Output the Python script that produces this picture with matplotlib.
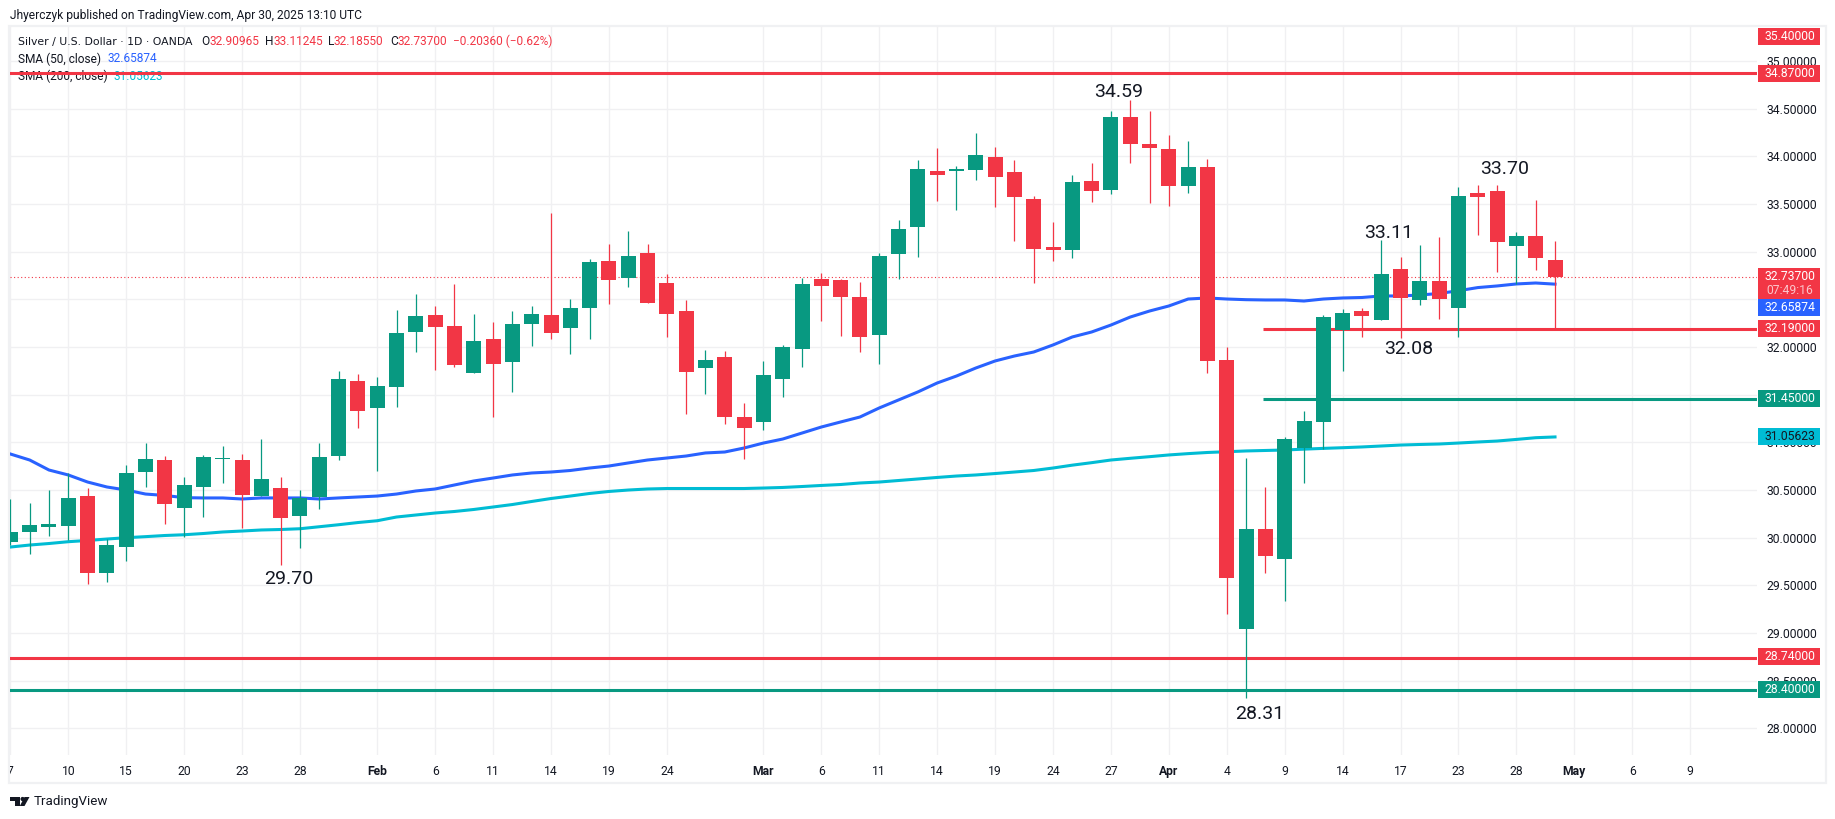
"""Silver / USD daily candles with SMA lines and marked levels, TradingView look."""

import matplotlib

matplotlib.use("Agg")
import matplotlib.pyplot as plt
import numpy as np
from matplotlib.patches import Circle, Polygon, Rectangle
from matplotlib.transforms import Affine2D, Bbox

W, H = 1835, 819
RED = "#F23645"
GREEN = "#089981"
BLUE = "#2962FF"
CYAN = "#00BCD4"
TEXT = "#131722"
GRID = "#F0F0F2"
FRAME = "#F0F1F3"

plt.rcParams["font.family"] = ["Roboto", "DejaVu Sans"]

# daily candles, first bar is 7 Jan (partly cut off by the left edge)
open_ = [
    29.954, 30.059, 30.111, 30.122, 30.436, 29.629, 29.901, 30.688, 30.814, 30.311,
    30.531, 30.825, 30.814, 30.436, 30.520, 30.227, 30.426, 30.856, 31.643, 31.360,
    31.580, 32.157, 32.335, 32.220, 31.727, 32.083, 31.842, 32.241, 32.335, 32.199,
    32.409, 32.902, 32.723, 32.986, 32.671, 32.377, 31.779, 31.895, 31.265, 31.213,
    31.664, 31.979, 32.713, 32.702, 32.524, 32.126, 32.975, 33.258, 33.846, 33.846,
    33.857, 33.993, 33.836, 33.552, 33.049, 33.017, 33.741, 33.647, 34.413, 34.129,
    34.077, 33.689, 33.888, 31.863, 29.041, 30.085, 29.776, 30.940, 31.218, 32.178,
    32.377, 32.283, 32.818, 32.493, 32.692, 32.409, 33.615, 33.636, 33.059, 33.164,
    32.910,
]
high = [
    30.405, 30.363, 30.499, 30.678, 30.520, 29.985, 30.762, 30.992, 30.856, 30.636,
    30.867, 30.961, 30.877, 31.034, 30.636, 30.499, 30.992, 31.748, 31.716, 31.685,
    32.388, 32.556, 32.430, 32.661, 32.346, 32.262, 32.377, 32.430, 33.405, 32.503,
    32.923, 33.080, 33.217, 33.080, 32.765, 32.493, 31.968, 31.958, 31.412, 31.853,
    32.021, 32.723, 32.776, 32.713, 32.682, 32.986, 33.332, 33.961, 34.087, 33.898,
    34.245, 34.098, 33.961, 33.584, 33.311, 33.804, 33.930, 34.475, 34.596, 34.475,
    34.224, 34.161, 33.972, 32.000, 30.835, 30.531, 31.055, 31.323, 32.335, 32.398,
    32.409, 33.122, 32.944, 33.070, 33.154, 33.678, 33.699, 33.699, 33.206, 33.542,
    33.112,
]
low = [
    29.922, 29.828, 30.017, 29.975, 29.513, 29.534, 29.755, 30.531, 30.143, 30.006,
    30.216, 30.573, 30.101, 30.436, 29.713, 29.891, 30.300, 30.814, 31.150, 30.699,
    31.370, 31.947, 31.758, 31.790, 31.727, 31.265, 31.527, 32.010, 32.083, 31.926,
    32.083, 32.451, 32.629, 32.461, 32.105, 31.297, 31.507, 31.192, 30.825, 31.129,
    31.475, 31.790, 32.272, 32.115, 31.947, 31.821, 32.713, 32.944, 33.531, 33.437,
    33.752, 33.468, 33.112, 32.671, 32.902, 32.933, 33.521, 33.605, 33.930, 33.510,
    33.479, 33.615, 31.727, 29.199, 28.317, 29.629, 29.335, 30.577, 30.930, 31.743,
    32.105, 32.283, 32.094, 32.440, 32.293, 32.105, 33.175, 32.786, 32.661, 32.807,
    32.186,
]
close = [
    30.059, 30.132, 30.143, 30.416, 29.629, 29.922, 30.678, 30.825, 30.352, 30.552,
    30.846, 30.835, 30.447, 30.615, 30.206, 30.416, 30.846, 31.664, 31.328, 31.590,
    32.147, 32.325, 32.209, 31.811, 32.062, 31.821, 32.241, 32.346, 32.147, 32.409,
    32.891, 32.702, 32.954, 32.461, 32.346, 31.737, 31.863, 31.265, 31.150, 31.706,
    32.000, 32.661, 32.640, 32.524, 32.105, 32.954, 33.238, 33.867, 33.804, 33.867,
    34.014, 33.783, 33.573, 33.028, 33.017, 33.731, 33.636, 34.413, 34.129, 34.087,
    33.689, 33.888, 31.853, 29.576, 30.085, 29.807, 31.034, 31.228, 32.314, 32.356,
    32.325, 32.765, 32.514, 32.692, 32.503, 33.584, 33.573, 33.101, 33.164, 32.933,
    32.737,
]
sma50 = [
    30.877, 30.814, 30.709, 30.657, 30.583, 30.531, 30.499, 30.457, 30.442, 30.419,
    30.416, 30.416, 30.405, 30.416, 30.416, 30.416, 30.405, 30.416, 30.426, 30.436,
    30.457, 30.489, 30.510, 30.552, 30.594, 30.625, 30.657, 30.678, 30.688, 30.704,
    30.730, 30.751, 30.783, 30.814, 30.835, 30.856, 30.888, 30.898, 30.940, 30.992,
    31.034, 31.097, 31.160, 31.213, 31.265, 31.360, 31.444, 31.528, 31.622, 31.695,
    31.779, 31.853, 31.905, 31.947, 32.021, 32.105, 32.157, 32.230, 32.314, 32.377,
    32.430, 32.503, 32.514, 32.503, 32.496, 32.493, 32.493, 32.482, 32.503, 32.514,
    32.519, 32.535, 32.535, 32.545, 32.561, 32.590, 32.623, 32.640, 32.661, 32.671,
    32.659,
]
sma200 = [
    29.901, 29.922, 29.938, 29.957, 29.970, 29.985, 29.999, 30.010, 30.022, 30.030,
    30.043, 30.059, 30.069, 30.080, 30.085, 30.093, 30.114, 30.135, 30.158, 30.177,
    30.216, 30.237, 30.258, 30.274, 30.295, 30.321, 30.347, 30.379, 30.410, 30.436,
    30.463, 30.484, 30.499, 30.510, 30.515, 30.515, 30.515, 30.515, 30.515, 30.520,
    30.526, 30.536, 30.547, 30.557, 30.573, 30.583, 30.599, 30.615, 30.631, 30.646,
    30.657, 30.672, 30.688, 30.704, 30.730, 30.760, 30.786, 30.814, 30.832, 30.849,
    30.867, 30.881, 30.893, 30.901, 30.909, 30.914, 30.919, 30.928, 30.936, 30.943,
    30.951, 30.961, 30.971, 30.977, 30.982, 30.992, 31.003, 31.013, 31.030, 31.048,
    31.056,
]

first_bar = -3
date_ticks = [-3, 0, 3, 6, 9, 12, 16, 19, 22, 25, 28, 31, 36, 39, 42, 45, 48, 51, 54,
              57, 60, 63, 66, 69, 72, 75, 78, 81, 84]
date_labels = ["7", "10", "15", "20", "23", "28", "Feb", "6", "11", "14", "19", "24",
               "Mar", "6", "11", "14", "19", "24", "27", "Apr", "4", "9", "14", "17",
               "23", "28", "May", "6", "9"]
month_labels = ["Feb", "Mar", "Apr", "May"]
price_ticks = [28.0, 28.5, 29.0, 29.5, 30.0, 30.5, 31.0, 31.5, 32.0, 32.5, 33.0, 33.5,
               34.0, 34.5, 35.0]

full_levels = [34.87, 28.74, 28.40]
full_colors = [RED, RED, GREEN]
short_levels = [32.19, 31.45]
short_colors = [RED, GREEN]
last_price = 32.737

peak_labels = ["34.59", "33.70", "33.11", "32.08", "28.31", "29.70"]
peak_bars = [54.4, 74.4, 68.4, 69.4, 61.7, 11.4]
peak_prices = [34.68, 33.87, 33.20, 31.98, 28.145, 29.57]

# chart area in pixels
LEFT, RIGHT, TOP, BOTTOM = 10, 1757, 26, 755
BAR_PX = 19.308
BAR0_PX = 68.3
PX_PER_UNIT = 95.32
Y35_PX = 61


def price_at(y_px):
    return 35 - (y_px - Y35_PX) / PX_PER_UNIT


def bar_at(x_px):
    return (x_px - BAR0_PX) / BAR_PX


def badge(ax, trans, y_px, label, color, text_color="white"):
    ax.add_patch(Rectangle((1758, y_px - 8.5), 62, 17, transform=trans, color=color,
                           lw=0, zorder=8, clip_on=False))
    ax.text(1790, y_px, label, transform=trans, color=text_color, fontsize=8.7,
            ha="center", va="center", zorder=9)


def main():
    fig = plt.figure(figsize=(W / 100, H / 100), dpi=100, facecolor="white")
    ax = fig.add_axes([LEFT / W, 1 - BOTTOM / H, (RIGHT - LEFT) / W, (BOTTOM - TOP) / H])
    pix = Affine2D().scale(1, -1).translate(0, H)

    ax.set_xlim(bar_at(LEFT), bar_at(RIGHT))
    ax.set_ylim(price_at(BOTTOM), price_at(TOP))
    for side in ax.spines.values():
        side.set_visible(False)
    ax.set_axisbelow(True)
    ax.grid(True, color=GRID, lw=1.0)

    ax.yaxis.tick_right()
    ax.set_yticks(price_ticks, [f"{p:.5f}" for p in price_ticks])
    ax.tick_params(axis="y", length=0, pad=6.5, labelsize=8.7, labelcolor=TEXT)
    ax.set_xticks(date_ticks, date_labels)
    ax.tick_params(axis="x", length=0, pad=7, labelsize=8.7, labelcolor=TEXT)
    for lab in ax.get_xticklabels():
        if lab.get_text() in month_labels:
            lab.set_fontweight("bold")
    # the first date label is cut by the chart edge
    first = ax.get_xticklabels()[0]
    first.set_clip_on(True)
    first.set_clip_box(Bbox([[LEFT, 0], [W, H]]))

    bars = np.arange(len(close)) + first_bar
    o, h, l, c = map(np.array, (open_, high, low, close))
    colors = np.where(c >= o, GREEN, RED)

    ax.axhline(last_price, color=RED, lw=0.8, ls=(0, (1, 2.2)), zorder=1.5)
    for level, col in zip(full_levels, full_colors):
        ax.axhline(level, color=col, lw=2.2, zorder=2)
    for level, col in zip(short_levels, short_colors):
        ax.hlines(level, bar_at(1263), bar_at(RIGHT), color=col, lw=2.2, zorder=2)

    ax.plot(bars, sma200, color=CYAN, lw=2.2, zorder=2.5)
    ax.plot(bars, sma50, color=BLUE, lw=2.2, zorder=2.5)

    ax.vlines(bars, l, h, colors=colors, lw=0.9, zorder=3)
    ax.bar(bars, np.abs(c - o), bottom=np.minimum(o, c), width=15 / BAR_PX, color=colors,
           lw=0, zorder=3.5)

    for label, bar, price in zip(peak_labels, peak_bars, peak_prices):
        ax.text(bar, price, label, fontsize=14, color=TEXT, ha="center", va="center",
                zorder=5)

    # outer frame of the chart
    ax.add_patch(Rectangle((9, 26), 1817, 757, transform=pix, fill=False, ec=FRAME, lw=1.6,
                           zorder=0.2, clip_on=False))

    # header and legend, the 34.87 line runs over the third legend row
    ax.text(10.3, 15, "Jhyerczyk published on TradingView.com, Apr 30, 2025 13:10 UTC",
            transform=pix, fontsize=8.65, color=TEXT, va="center", zorder=1)
    ax.text(18, 41.7, "Silver / U.S. Dollar · 1D · OANDA", transform=pix, fontsize=7.85,
            family="DejaVu Sans", color=TEXT, va="center", zorder=1, clip_on=False)
    rows = [
        (201, 41.7, "O", TEXT), (209.3, 41.7, "32.90965", RED),
        (264.8, 41.7, "H", TEXT), (273.6, 41.7, "33.11245", RED),
        (328.4, 41.7, "L", TEXT), (334, 41.7, "32.18550", RED),
        (390.4, 41.7, "C", TEXT), (398, 41.7, "32.73700", RED),
        (452.7, 41.7, "−0.20360 (−0.62%)", RED),
        (18, 59, "SMA (50, close)", TEXT), (107.5, 59, "32.65874", BLUE),
        (18, 76, "SMA (200, close)", TEXT), (113.7, 76, "31.05623", CYAN),
    ]
    for x, y, label, col in rows:
        ax.text(x, y, label, transform=pix, fontsize=8.6, color=col, va="center",
                zorder=1, clip_on=False)

    badge(ax, pix, 36.3, "35.40000", RED)
    badge(ax, pix, 73.4, "34.87000", RED)
    badge(ax, pix, 328.3, "32.19000", RED)
    badge(ax, pix, 398.3, "31.45000", GREEN)
    badge(ax, pix, 436.3, "31.05623", CYAN, TEXT)
    badge(ax, pix, 656.3, "28.74000", RED)
    badge(ax, pix, 689.3, "28.40000", GREEN)
    ax.add_patch(Rectangle((1758, 268), 62, 31, transform=pix, color=RED, lw=0, zorder=8,
                           clip_on=False))
    ax.text(1790, 276.3, "32.73700", transform=pix, color="white", fontsize=8.7,
            ha="center", va="center", zorder=9)
    ax.text(1790, 290.7, "07:49:16", transform=pix, color="#FBC4CA", fontsize=8.7,
            ha="center", va="center", zorder=9)
    badge(ax, pix, 307.5, "32.65874", BLUE)

    # footer logo
    logo = [
        Polygon([(10, 797), (20, 797), (20, 806), (15, 806), (15, 801), (10, 801)]),
        Circle((22.6, 799), 2.1),
        Polygon([(24.5, 797), (29.5, 797), (24.5, 806), (19.8, 806)]),
    ]
    for part in logo:
        part.set(transform=pix, color=TEXT, lw=0, zorder=1, clip_on=False)
        ax.add_patch(part)
    ax.text(33.3, 801.5, "TradingView", transform=pix, fontsize=9.6, color=TEXT,
            va="center", zorder=1)

    fig.savefig("out.png", dpi=100, facecolor="white")
    plt.close(fig)


if __name__ == "__main__":
    main()
